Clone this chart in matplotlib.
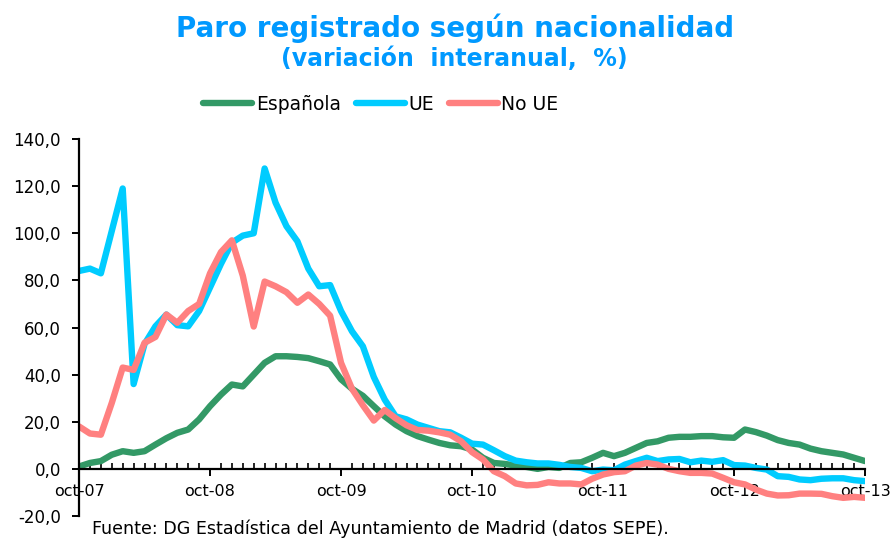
import numpy as np
import matplotlib
matplotlib.use('Agg')
import matplotlib.pyplot as plt
from matplotlib.ticker import MultipleLocator, FuncFormatter

## data: monthly, oct-07 .. oct-13 (73 months)
meses = np.arange(73)
tick_labels = ['oct-07', 'oct-08', 'oct-09', 'oct-10', 'oct-11', 'oct-12', 'oct-13']

espanola = [1, 2.5, 3.3, 6, 7.5, 6.8, 7.5, 10.3, 13, 15.3, 16.7, 21,
            26.6, 31.5, 35.8, 35, 40, 45, 47.8, 47.8, 47.5, 47, 45.7, 44.3,
            38, 34, 31, 26.6, 22.3, 18.8, 16, 13.9, 12.4, 11, 10, 9.6,
            8.2, 4.7, 2.5, 2.1, 1.4, 0.8, 0, 0.8, 0.4, 2.5, 2.8, 4.7,
            6.8, 5.4, 6.8, 8.9, 11, 11.7, 13.2, 13.6, 13.6, 13.9, 13.9, 13.4,
            13.2, 16.7, 15.6, 14.1, 12.2, 11, 10.3, 8.6, 7.5, 6.8, 6.1, 4.7,
            3.3]

ue = [84, 85, 83, 101, 119, 36, 53, 60.5, 65.5, 61, 60.5, 67,
      77, 87, 96, 99, 100, 127.5, 113, 103, 96.6, 85, 77.5, 78,
      67, 58.4, 52, 39, 29.4, 22.3, 21, 18.8, 17.4, 16, 15.5, 13.2,
      10.7, 10.3, 7.9, 5.4, 3.5, 2.8, 2.3, 2.3, 1.7, 0.8, 0.4, -1,
      -0.3, -0.6, 1.8, 3.3, 4.7, 3.3, 4, 4.2, 2.8, 3.5, 3, 3.7,
      1.6, 1.4, 0.4, -0.3, -3.1, -3.4, -4.5, -4.8, -4.2, -4, -4, -4.8,
      -5.2]

no_ue = [18, 15, 14.5, 28, 43, 42, 53.5, 56, 65.5, 62, 67, 70,
         83, 92, 97, 82, 60.4, 79.5, 77.5, 75, 70.5, 74, 70, 65,
         45, 34, 27, 20.5, 25, 21.5, 18.5, 16.5, 16.2, 15.5, 14.5, 11.7,
         7.1, 4, -1, -3.1, -6.2, -7, -6.8, -5.7, -6.2, -6.2, -6.6, -4.2,
         -2.4, -1.4, -1, 1.4, 2.5, 1.8, 0, -1, -1.7, -1.7, -2, -3.8,
         -5.7, -6.6, -8.8, -10.5, -11.3, -11.2, -10.5, -10.5, -10.6, -11.6, -12.3, -11.9,
         -12.3]

fig = plt.figure(figsize=(8.9, 5.42), dpi=100)
ax = fig.add_axes([0.0888, 0.048, 0.8832, 0.6955])

ax.plot(meses, espanola, color='#339966', lw=4.6, solid_joinstyle='round', solid_capstyle='round', label='Española')
ax.plot(meses, ue, color='#00CCFF', lw=4.6, solid_joinstyle='round', solid_capstyle='round', label='UE')
ax.plot(meses, no_ue, color='#FF8080', lw=4.6, solid_joinstyle='round', solid_capstyle='round', label='No UE')

ax.set_xlim(0, 72)
ax.set_ylim(-20, 140)
ax.spines['top'].set_visible(False)
ax.spines['right'].set_visible(False)
ax.spines['bottom'].set_position(('data', 0))
ax.spines['bottom'].set_linewidth(1.6)
ax.spines['left'].set_linewidth(1.6)

ax.set_xticks(np.arange(0, 73, 12))
ax.set_xticklabels(tick_labels)
ax.xaxis.set_minor_locator(MultipleLocator(1))
ax.tick_params(axis='x', which='major', direction='out', length=5, width=1.4, pad=6, labelsize=11.5)
ax.tick_params(axis='x', which='minor', direction='in', length=4, width=1.2)

ax.set_yticks(np.arange(-20, 141, 20))
ax.yaxis.set_major_formatter(FuncFormatter(lambda v, p: '{:.1f}'.format(v).replace('.', ',')))
ax.tick_params(axis='y', direction='out', length=5, width=1.4, pad=8, labelsize=12)

fig.text(0.511, 0.948, 'Paro registrado según nacionalidad', ha='center', va='center',
         fontsize=20, fontweight='bold', color='#0099FF')
fig.text(0.511, 0.891, '(variación  interanual,  %)', ha='center', va='center',
         fontsize=17, fontweight='bold', color='#0099FF')

fig.legend(loc='center', bbox_to_anchor=(0.428, 0.808), ncol=3, frameon=False,
           fontsize=13.5, handlelength=2.6, handletextpad=0.2, columnspacing=0.8)

fig.text(0.103, 0.024, 'Fuente: DG Estadística del Ayuntamiento de Madrid (datos SEPE).',
         ha='left', va='center', fontsize=12.6)

plt.savefig('out.png', dpi=100)
